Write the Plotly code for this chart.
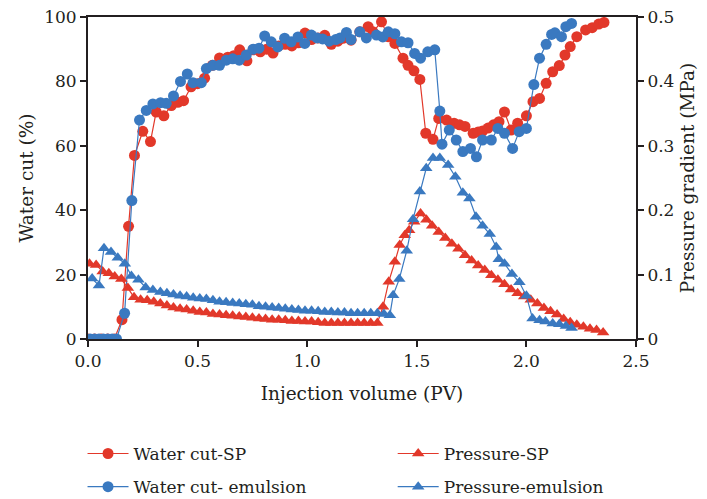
import plotly.graph_objects as go
from plotly.subplots import make_subplots

# Water cut - SP
wc_sp_x = [0.00, 0.03, 0.06, 0.09, 0.12, 0.155, 0.185, 0.212, 0.25, 0.285, 0.311, 0.346, 0.38, 0.41,
           0.436, 0.47, 0.50, 0.532, 0.567, 0.60, 0.638, 0.665, 0.692, 0.725, 0.753, 0.786, 0.815,
           0.844, 0.87, 0.90, 0.93, 0.96, 0.99, 1.02, 1.05, 1.08, 1.11, 1.14, 1.163, 1.20, 1.24,
           1.278, 1.30, 1.339, 1.369, 1.40, 1.437, 1.46, 1.487, 1.514, 1.541, 1.574, 1.60, 1.636,
           1.67, 1.695, 1.72, 1.757, 1.78, 1.80, 1.825, 1.85, 1.875, 1.90, 1.93, 1.96, 2.00, 2.03,
           2.06, 2.09, 2.12, 2.15, 2.176, 2.20, 2.23, 2.27, 2.30, 2.33, 2.354]
wc_sp_y = [0, 0, 0, 0, 0, 6, 35, 57, 64.5, 61.3, 70.5, 69.3, 72.5, 73.5,
           74, 78.3, 79.3, 81, 85, 87.3, 87.5, 88, 89.8, 86.4, 89.8, 89.2, 90,
           88.8, 91, 91.5, 91, 92, 95, 93, 93.5, 94.3, 91.5, 92.5, 93.4, 92.8, 95.4,
           97, 95.4, 98.5, 93.9, 91.8, 87.2, 85, 83.3, 80.6, 63.9, 62, 68.5, 68,
           67, 66.5, 66, 63.9, 64.3, 64.6, 65.5, 66.5, 67.5, 70.5, 64.9, 67, 69.3, 73.7,
           74.7, 79.4, 83, 84.9, 88.2, 90.8, 93.9, 96, 96.7, 97.8, 98.3]

# Water cut - emulsion
wc_em_x = [0.01, 0.03, 0.05, 0.07, 0.09, 0.11, 0.13, 0.167, 0.20, 0.235, 0.266, 0.296, 0.331, 0.357,
           0.39, 0.422, 0.453, 0.479, 0.517, 0.54, 0.57, 0.60, 0.631, 0.66, 0.69, 0.722, 0.753,
           0.78, 0.806, 0.836, 0.866, 0.897, 0.927, 0.958, 0.989, 1.019, 1.045, 1.07, 1.10, 1.13,
           1.15, 1.179, 1.20, 1.24, 1.27, 1.316, 1.345, 1.37, 1.40, 1.43, 1.46, 1.49, 1.517, 1.55,
           1.582, 1.605, 1.615, 1.648, 1.68, 1.71, 1.745, 1.772, 1.80, 1.84, 1.87, 1.90, 1.937,
           1.967, 2.00, 2.034, 2.06, 2.09, 2.115, 2.13, 2.16, 2.18, 2.206]
wc_em_y = [0, 0, 0, 0, 0, 0, 0, 8, 43, 68, 71, 73, 73.4, 73.2,
           75.5, 80, 82.3, 79.6, 79.6, 84, 85, 85, 86.6, 87, 86.6, 88.2, 90,
           90.3, 94.1, 92.3, 90.7, 93.4, 92.3, 93.8, 91.8, 94.4, 93.5, 93.2, 92.5, 93,
           93.5, 95.2, 93, 95.4, 93.5, 94.4, 93.8, 95.4, 94.8, 92.3, 92, 88.7, 87.2, 89.2,
           89.8, 70.8, 60.5, 64.9, 61.8, 58.2, 59.2, 56.6, 61.8, 61.8, 65.4, 63.9, 59.2,
           64.4, 65.4, 79, 87.2, 91.5, 94.6, 95.1, 93.9, 97, 98]

# Pressure - SP (MPa)
p_sp_x = [0.007, 0.037, 0.067, 0.095, 0.122, 0.152, 0.182, 0.21, 0.24, 0.27, 0.30, 0.33, 0.36, 0.39,
          0.42, 0.45, 0.48, 0.51, 0.54, 0.57, 0.60, 0.63, 0.66, 0.69, 0.72, 0.75, 0.78, 0.81, 0.84,
          0.87, 0.90, 0.93, 0.96, 0.99, 1.02, 1.05, 1.08, 1.11, 1.14, 1.17, 1.20, 1.23, 1.26, 1.29,
          1.32, 1.346, 1.372, 1.40, 1.422, 1.445, 1.465, 1.488, 1.517, 1.544, 1.57, 1.60, 1.63,
          1.66, 1.69, 1.72, 1.75, 1.78, 1.81, 1.84, 1.87, 1.90, 1.93, 1.96, 1.99, 2.02, 2.05, 2.08,
          2.11, 2.14, 2.17, 2.20, 2.23, 2.26, 2.29, 2.32, 2.35]
p_sp_y = [0.117, 0.115, 0.105, 0.102, 0.097, 0.093, 0.079, 0.065, 0.061, 0.060, 0.058, 0.055, 0.052,
          0.049, 0.047, 0.046, 0.044, 0.042, 0.041, 0.039, 0.038, 0.037, 0.036, 0.035, 0.034, 0.033,
          0.032, 0.031, 0.030, 0.030, 0.029, 0.028, 0.028, 0.027, 0.027, 0.026, 0.025, 0.025, 0.025,
          0.025, 0.025, 0.025, 0.025, 0.025, 0.025, 0.050, 0.089, 0.120, 0.146, 0.161, 0.169, 0.182,
          0.195, 0.185, 0.176, 0.166, 0.157, 0.148, 0.140, 0.130, 0.122, 0.114, 0.107, 0.099, 0.092,
          0.085, 0.077, 0.071, 0.066, 0.061, 0.055, 0.048, 0.043, 0.038, 0.031, 0.026, 0.022, 0.019,
          0.016, 0.014, 0.010]

# Pressure - emulsion (MPa)
p_em_x = [0.019, 0.05, 0.073, 0.105, 0.136, 0.168, 0.198, 0.23, 0.263, 0.296, 0.33, 0.36, 0.39, 0.42,
          0.45, 0.48, 0.51, 0.54, 0.57, 0.60, 0.63, 0.66, 0.69, 0.72, 0.75, 0.78, 0.81, 0.84, 0.87,
          0.90, 0.93, 0.96, 0.99, 1.02, 1.05, 1.08, 1.11, 1.14, 1.17, 1.20, 1.23, 1.26, 1.29, 1.32,
          1.35, 1.377, 1.392, 1.42, 1.454, 1.483, 1.514, 1.543, 1.574, 1.605, 1.643, 1.676, 1.71,
          1.74, 1.77, 1.80, 1.833, 1.862, 1.874, 1.90, 1.934, 1.968, 2.00, 2.028, 2.06, 2.087, 2.12,
          2.15, 2.18, 2.206]
p_em_y = [0.094, 0.083, 0.141, 0.135, 0.126, 0.117, 0.098, 0.092, 0.080, 0.076, 0.073, 0.071, 0.069,
          0.067, 0.066, 0.064, 0.063, 0.062, 0.060, 0.058, 0.057, 0.056, 0.055, 0.054, 0.053, 0.051,
          0.050, 0.049, 0.048, 0.047, 0.046, 0.045, 0.044, 0.044, 0.043, 0.042, 0.042, 0.041, 0.041,
          0.040, 0.040, 0.040, 0.040, 0.040, 0.039, 0.037, 0.068, 0.093, 0.137, 0.186, 0.229, 0.265,
          0.281, 0.281, 0.270, 0.252, 0.227, 0.218, 0.190, 0.176, 0.163, 0.143, 0.124, 0.117, 0.101,
          0.088, 0.067, 0.032, 0.029, 0.027, 0.024, 0.023, 0.020, 0.017]

x_ticks = [0.0, 0.5, 1.0, 1.5, 2.0, 2.5]
RED = "#E2382A"
BLUE = "#3A79C0"
FONT = "DejaVu Serif"
INK = "#231F20"

fig = make_subplots(specs=[[{"secondary_y": True}]])

fig.add_trace(go.Scatter(x=wc_sp_x, y=wc_sp_y, name="Water cut-SP", mode="lines+markers",
                         line=dict(color=RED, width=1.2), marker=dict(symbol="circle", size=11, color=RED),
                         legend="legend"), secondary_y=False)
fig.add_trace(go.Scatter(x=wc_em_x, y=wc_em_y, name="Water cut- emulsion", mode="lines+markers",
                         line=dict(color=BLUE, width=1.2), marker=dict(symbol="circle", size=11, color=BLUE),
                         legend="legend3"), secondary_y=False)
fig.add_trace(go.Scatter(x=p_sp_x, y=p_sp_y, name="Pressure-SP", mode="lines+markers",
                         line=dict(color=RED, width=1.2), marker=dict(symbol="triangle-up", size=11, color=RED),
                         legend="legend2"), secondary_y=True)
fig.add_trace(go.Scatter(x=p_em_x, y=p_em_y, name="Pressure-emulsion", mode="lines+markers",
                         line=dict(color=BLUE, width=1.2), marker=dict(symbol="triangle-up", size=11, color=BLUE),
                         legend="legend4"), secondary_y=True)

leg = dict(orientation="h", xref="paper", xanchor="left", yanchor="middle",
           bgcolor="rgba(0,0,0,0)", font=dict(family=FONT, size=17, color=INK), itemwidth=41)

row1, row2 = -0.357, -0.46
col1, col2 = -0.01, 0.556

fig.update_layout(
    width=707, height=499,
    margin=dict(l=88, r=71, t=17, b=160, autoexpand=False),
    plot_bgcolor="white", paper_bgcolor="white",
    font=dict(family=FONT, size=17, color=INK),
    legend=dict(leg, x=col1, y=row1),
    legend2=dict(leg, x=col2, y=row1),
    legend3=dict(leg, x=col1, y=row2),
    legend4=dict(leg, x=col2, y=row2),
    showlegend=True,
)

axis_common = dict(showline=True, linecolor=INK, linewidth=2, ticks="outside", ticklen=6,
                   tickwidth=1.5, tickcolor=INK, showgrid=False, zeroline=False,
                   tickfont=dict(family=FONT, size=17, color=INK))

fig.update_xaxes(range=[0, 2.5], domain=[0, 1], tickvals=x_ticks, ticktext=[f"{v:.1f}" for v in x_ticks],
                 mirror=True, title=dict(text="Injection volume (PV)", font=dict(family=FONT, size=18.5), standoff=17),
                 **axis_common)
fig.update_yaxes(range=[0, 100], dtick=20, title=dict(text="Water cut (%)", font=dict(family=FONT, size=18.5), standoff=6),
                 secondary_y=False, **axis_common)
fig.update_yaxes(range=[0, 0.5], dtick=0.1, title=dict(text="Pressure gradient (MPa)", font=dict(family=FONT, size=18.5), standoff=8),
                 secondary_y=True, **axis_common)

fig.write_html("out.html")
